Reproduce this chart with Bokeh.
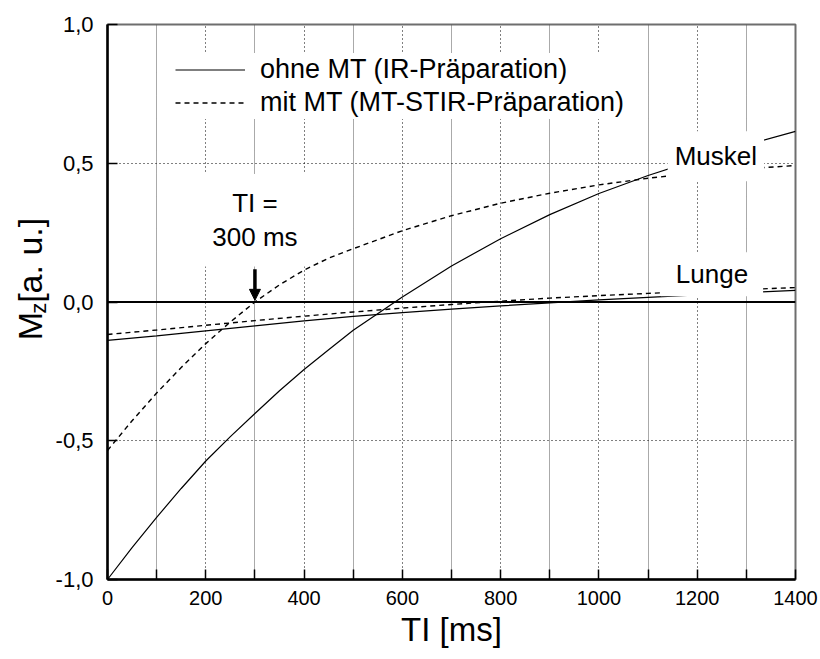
from bokeh.plotting import figure
from bokeh.layouts import row
from bokeh.models import (Range1d, FixedTicker, Span, Label, Arrow, NormalHead)
from bokeh.core.properties import value
from bokeh.embed import file_html
from bokeh.resources import INLINE
import math

# Inversion time grid (ms)
TI_FINE = [0, 50, 100, 150, 200, 250, 300, 350, 400, 450, 500,
           600, 700, 800, 900, 1000, 1100, 1200, 1300, 1400]
TI_COARSE = [0, 100, 200, 300, 400, 500, 600, 700, 800, 900,
             1000, 1100, 1200, 1300, 1400]

# Longitudinal magnetisation Mz of muscle, without / with MT preparation
MUSKEL_IR = [-1.000, -0.885, -0.776, -0.672, -0.573, -0.485, -0.402, -0.320,
             -0.243, -0.172, -0.102, 0.018, 0.130, 0.228, 0.315, 0.391,
             0.456, 0.513, 0.566, 0.615]
MUSKEL_MT = [-0.535, -0.428, -0.328, -0.236, -0.150, -0.072, 0.000, 0.062,
             0.115, 0.158, 0.192, 0.257, 0.311, 0.356, 0.392, 0.422,
             0.446, 0.465, 0.480, 0.492]

# Longitudinal magnetisation Mz of lung, without / with MT preparation
LUNGE_IR = [-0.138, -0.122, -0.104, -0.086, -0.068, -0.052, -0.038, -0.026,
            -0.014, -0.003, 0.008, 0.017, 0.026, 0.034, 0.042]
LUNGE_MT = [-0.117, -0.101, -0.084, -0.067, -0.051, -0.036, -0.022, -0.009,
            0.003, 0.014, 0.023, 0.031, 0.039, 0.045, 0.052]

X_TICKS = [0, 200, 400, 600, 800, 1000, 1200, 1400]
X_MINOR_TICKS = [100, 300, 500, 700, 900, 1100, 1300]
Y_TICKS = [-1.0, -0.5, 0.0, 0.5, 1.0]
Y_TICK_LABELS = ["-1,0", "-0,5", "0,0", "0,5", "1,0"]

TI_MARK = 300  # chosen inversion time (null point of muscle with MT)

FONT = "Liberation Sans"
H = 659

# ---- main plot -------------------------------------------------------------
p = figure(width=770, height=H,
           x_range=Range1d(0, 1400), y_range=Range1d(-1, 1),
           output_backend="svg", toolbar_location=None,
           min_border_left=57, min_border_right=25,
           min_border_top=24, min_border_bottom=80)
p.background_fill_color = "white"
p.border_fill_color = "white"
p.outline_line_color = "#6e6e6e"
p.outline_line_width = 2

xticker = FixedTicker(ticks=X_TICKS, minor_ticks=X_MINOR_TICKS)
yticker = FixedTicker(ticks=Y_TICKS)

p.xaxis.ticker = xticker
p.yaxis.ticker = yticker
p.yaxis.major_label_overrides = dict(zip(Y_TICKS, Y_TICK_LABELS))

for ax in (p.xaxis[0], p.yaxis[0]):
    ax.axis_line_width = 2.5
    ax.axis_line_color = "black"
    ax.major_tick_in = 10
    ax.major_tick_out = 0
    ax.minor_tick_in = 10
    ax.minor_tick_out = 0
    ax.major_tick_line_width = 1.5
    ax.minor_tick_line_width = 1.5
    ax.major_label_text_font = FONT
    ax.major_label_text_color = "black"

p.xaxis.major_label_text_font_size = "20px"
p.xaxis.major_label_standoff = 11
p.yaxis.major_label_text_font_size = "22px"
p.yaxis.major_label_standoff = 14

p.xaxis.axis_label = "TI [ms]"
p.xaxis.axis_label_text_font = FONT
p.xaxis.axis_label_text_font_size = "33px"
p.xaxis.axis_label_text_font_style = "normal"
p.xaxis.axis_label_text_color = "black"
p.xaxis.axis_label_standoff = 3

# Grid: dotted lines, finer for the minor (odd hundred) positions
p.xgrid.ticker = xticker
p.ygrid.ticker = yticker
for g in (p.xgrid, p.ygrid):
    g.grid_line_color = "black"
    g.grid_line_dash = "1 3"
    g.grid_line_width = 1
p.xgrid.minor_grid_line_color = "#555555"
p.xgrid.minor_grid_line_dash = "1 1"
p.xgrid.minor_grid_line_width = 1

# Zero line
p.add_layout(Span(location=0, dimension="width", line_color="black",
                  line_width=2))

# Curves
p.line(TI_FINE, MUSKEL_IR, line_color="black", line_width=1.2,
       legend_label="ohne MT (IR-Präparation)")
p.line(TI_FINE, MUSKEL_MT, line_color="black", line_width=1.4,
       line_dash="5 4", legend_label="mit MT (MT-STIR-Präparation)")
p.line(TI_COARSE, LUNGE_IR, line_color="black", line_width=1.2)
p.line(TI_COARSE, LUNGE_MT, line_color="black", line_width=1.4,
       line_dash="5 4")

lg = p.legend[0]
lg.location = (68, 460)
lg.border_line_color = None
lg.background_fill_color = "white"
lg.background_fill_alpha = 1
lg.padding = 12
lg.margin = 0
lg.spacing = -5
lg.glyph_width = 70
lg.glyph_height = 33
lg.label_height = 33
lg.label_standoff = 15
lg.label_text_font = FONT
lg.label_text_font_size = "27px"
lg.label_text_color = "black"

# Arrow marking the chosen inversion time
p.add_layout(Arrow(end=NormalHead(size=11, fill_color="black",
                                  line_color="black", line_width=1),
                   x_start=TI_MARK, y_start=0.118, x_end=TI_MARK, y_end=0.006,
                   line_color="black", line_width=3.5))

# Text annotations on white boxes
def boxed(text, x, y, pad_x, pad_y):
    p.add_layout(Label(x=x, y=y, text=text, text_font=FONT,
                       text_font_size="26px", text_color="black",
                       text_align="center", text_baseline="middle",
                       text_line_height=1.15,
                       background_fill_color="white", background_fill_alpha=1,
                       padding=dict(left=pad_x, right=pad_x,
                                    top=pad_y, bottom=pad_y)))

boxed("TI =\n300 ms", TI_MARK, 0.295, 11, 14)
boxed("Muskel", 1238, 0.525, 7, 10)
boxed("Lunge", 1230, 0.100, 15, 7)

# ---- vertical axis title (M with subscript z), rotated text ---------------
yt = figure(width=50, height=H, x_range=Range1d(0, 50), y_range=Range1d(0, H),
            x_axis_type=None, y_axis_type=None, title=None,
            output_backend="svg", toolbar_location=None,
            min_border=0, min_border_left=0, min_border_right=0,
            min_border_top=0, min_border_bottom=0)
yt.outline_line_color = None
yt.background_fill_color = "white"
yt.border_fill_color = "white"

TITLE_STYLE = dict(angle=math.pi / 2, text_font=value(FONT), text_color="black",
                   text_align="center", text_baseline="middle")
yt.text(x=[29], y=[301], text=["M"], text_font_size="34px", **TITLE_STYLE)
yt.text(x=[38], y=[322], text=["z"], text_font_size="22px", **TITLE_STYLE)
yt.text(x=[29], y=[379], text=["[a. u.]"], text_font_size="34px",
        **TITLE_STYLE)

layout = row(yt, p, spacing=0)
open("out.html", "w").write(file_html(layout, INLINE))
